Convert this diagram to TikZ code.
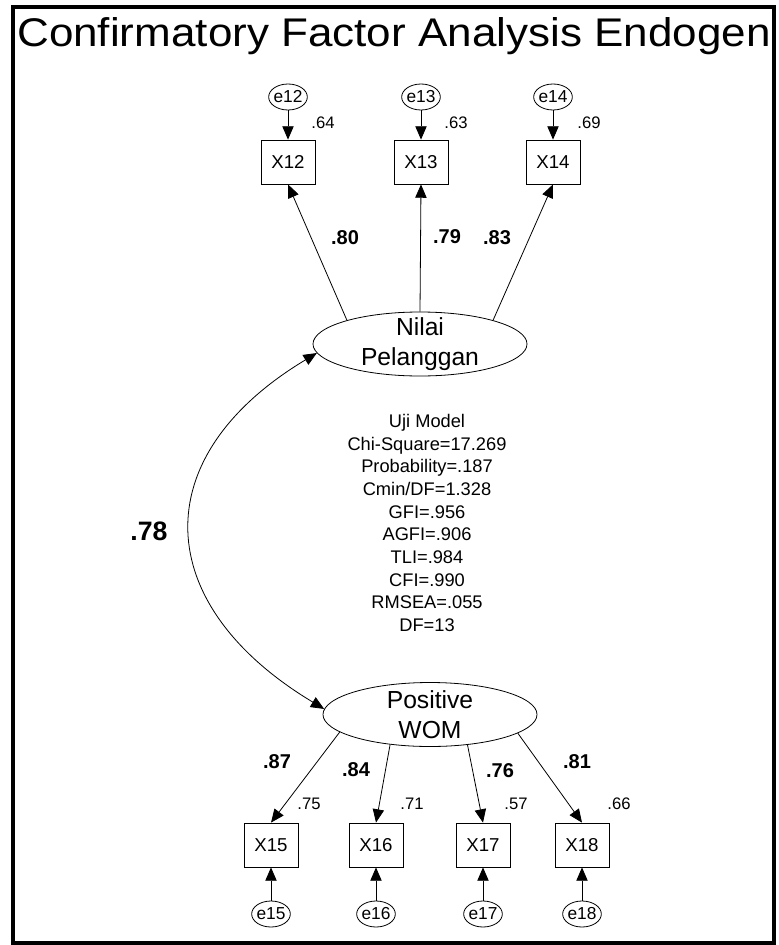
\documentclass[tikz,border=0pt]{standalone}
\usepackage{fontspec}
\setmainfont{Liberation Sans}
\usepackage{graphicx}
\usepackage{tikz}
\usetikzlibrary{arrows.meta,shapes.geometric}
\tikzset{
  obs/.style={rectangle, draw, line width=0.6pt, minimum width=40.5pt, minimum height=33pt, inner sep=0pt, font=\fontsize{14pt}{16pt}\selectfont},
  err/.style={ellipse, draw, line width=0.6pt, minimum width=29pt, minimum height=19.5pt, inner xsep=-1pt, inner ysep=0pt, font=\fontsize{13pt}{15pt}\selectfont},
  lat/.style={ellipse, draw, line width=0.6pt, minimum width=160.5pt, minimum height=48pt, inner sep=0pt},
  lattxt/.style={align=center, inner sep=0pt, font=\fontsize{18.5pt}{22.5pt}\selectfont},
  reg/.style={-{Triangle[length=10pt, width=8.5pt]}, line width=0.6pt},
  covar/.style={{Triangle[length=10pt, width=8.5pt]}-{Triangle[length=10pt, width=8.5pt]}, line width=0.6pt},
  est/.style={font=\bfseries\fontsize{15pt}{17pt}\selectfont},
  rsq/.style={font=\fontsize{12.5pt}{14pt}\selectfont},
}
\begin{document}
\begin{tikzpicture}[x=0.75pt, y=0.75pt]
\useasboundingbox (0,0) rectangle (778,-945);
% Frame and title
\draw[line width=3.5pt] (13,-7) rectangle (774,-943);
\node[anchor=base west, inner sep=0pt] (title) at (17,-47) {\fontsize{30pt}{34pt}\selectfont\resizebox{565pt}{\height}{Confirmatory Factor Analysis Endogen}};
% Latent: Nilai Pelanggan
\node[lat] (nilai) at (420,-344) {};
\node[lattxt] (nilaitxt) at (nilai) {Nilai\\Pelanggan};
% Latent: Positive WOM
\node[lat] (wom) at (430,-714.5) {};
\node[lattxt] (womtxt) at (wom) {Positive\\WOM};
% Indicators of Nilai Pelanggan
\node[obs] (x12) at (288,-162) {X12};
\node[obs] (x13) at (421,-162) {X13};
\node[obs] (x14) at (553,-162) {X14};
\node[err] (e12) at (288,-97) {e12};
\node[err] (e13) at (421,-97) {e13};
\node[err] (e14) at (553,-97) {e14};
\draw[reg] (e12) -- (x12);
\draw[reg] (e13) -- (x13);
\draw[reg] (e14) -- (x14);
\node[rsq] (r12) at (323,-123) {.64};
\node[rsq] (r13) at (456,-123) {.63};
\node[rsq] (r14) at (589,-123) {.69};
% Loadings, top
\draw[reg] (nilai.162) -- (x12.south);
\draw[reg] (nilai.90) -- (x13.south);
\draw[reg] (nilai.18) -- (x14.south);
\node[est] (b12) at (345,-238) {.80};
\node[est] (b13) at (447,-237) {.79};
\node[est] (b14) at (497,-238) {.83};
% Indicators of Positive WOM
\node[obs] (x15) at (271,-845) {X15};
\node[obs] (x16) at (376,-845) {X16};
\node[obs] (x17) at (483,-845) {X17};
\node[obs] (x18) at (582,-845) {X18};
\node[err] (e15) at (271,-914) {e15};
\node[err] (e16) at (376,-914) {e16};
\node[err] (e17) at (483,-914) {e17};
\node[err] (e18) at (582,-914) {e18};
\draw[reg] (e15) -- (x15);
\draw[reg] (e16) -- (x16);
\draw[reg] (e17) -- (x17);
\draw[reg] (e18) -- (x18);
% Loadings, bottom
\draw[reg] (wom.191) -- (x15.north);
\draw[reg] (wom.217) -- (x16.north);
\draw[reg] (wom.321) -- (x17.north);
\draw[reg] (wom.348) -- (x18.north);
\node[est] (b15) at (277,-762) {.87};
\node[est] (b16) at (356,-770) {.84};
\node[est] (b17) at (500,-771) {.76};
\node[est] (b18) at (577,-762) {.81};
\node[rsq] (r15) at (309,-804) {.75};
\node[rsq] (r16) at (412,-804) {.71};
\node[rsq] (r17) at (516,-804) {.57};
\node[rsq] (r18) at (619,-804) {.66};
% Correlation between latents
\draw[covar] (nilai.185) to[out=211, in=149, looseness=1.45] (wom.177);
\node[est, font=\bfseries\fontsize{20pt}{24pt}\selectfont] (b78) at (149,-531) {.78};
% Fit statistics
\node[align=center, font=\fontsize{13.7pt}{17pt}\selectfont] (fit) at (427,-523) {Uji Model\\Chi-Square=17.269\\Probability=.187\\Cmin/DF=1.328\\GFI=.956\\AGFI=.906\\TLI=.984\\CFI=.990\\RMSEA=.055\\DF=13};
\end{tikzpicture}
\end{document}
